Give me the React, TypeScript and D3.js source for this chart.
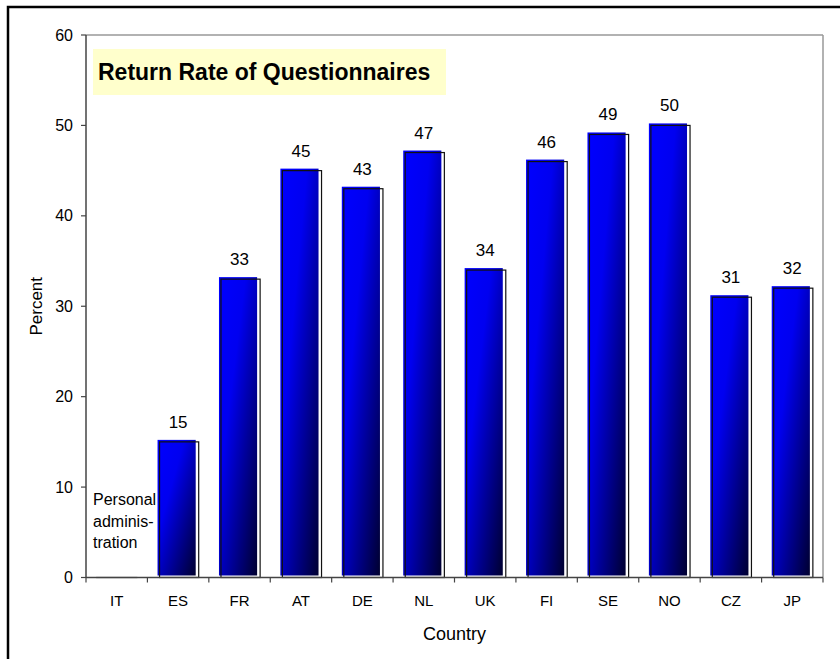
import { scaleBand, scaleLinear } from 'd3'

const COUNTRIES = ['IT', 'ES', 'FR', 'AT', 'DE', 'NL', 'UK', 'FI', 'SE', 'NO', 'CZ', 'JP']
const RETURN_RATE = [0, 15, 33, 45, 43, 47, 34, 46, 49, 50, 31, 32]
const Y_TICKS = [0, 10, 20, 30, 40, 50, 60]
const NOTE_LINES = ['Personal', 'adminis-', 'tration']

const TITLE = 'Return Rate of Questionnaires'
const Y_LABEL = 'Percent'
const X_LABEL = 'Country'

export default function App() {
  const width = 840
  const height = 659
  const plot = { left: 86, right: 823, top: 35, bottom: 577.5 }
  const font = 'Arial, "Liberation Sans", sans-serif'

  const xScale = scaleBand<string>()
    .domain(COUNTRIES)
    .range([plot.left, plot.right])

  const yScale = scaleLinear().domain([0, 60]).range([plot.bottom, plot.top])

  const bw = xScale.bandwidth()
  const barWidth = bw * 0.67

  const data = COUNTRIES.map((c, i) => ({ country: c, value: RETURN_RATE[i] }))

  return (
    <svg
      width={width}
      height={height}
      style={{ position: 'absolute', left: 0, top: 0, background: '#fff' }}
      fontFamily={font}
    >
      <defs>
        <linearGradient id='barGrad' x1='0' y1='0' x2='1' y2='1'>
          <stop offset='0' stopColor='#0000ff' />
          <stop offset='0.35' stopColor='#0000f0' />
          <stop offset='1' stopColor='#000030' />
        </linearGradient>
      </defs>

      {/* outer frame */}
      <rect x={8} y={7} width={900} height={800} fill='none' stroke='#000' strokeWidth={2.5} />

      {/* plot area border (top / right) */}
      <line x1={plot.left} x2={plot.right} y1={plot.top} y2={plot.top} stroke='#999' strokeWidth={1.5} />
      <line x1={plot.right} x2={plot.right} y1={plot.top} y2={plot.bottom} stroke='#999' strokeWidth={1.5} />

      {/* title box */}
      <rect x={93} y={49} width={353} height={46} fill='#ffffcc' />
      <text x={98} y={80} fontSize={23} fontWeight='bold' fill='#000'>
        {TITLE}
      </text>

      {/* bars */}
      {data.map((d, i) => {
        const x0 = xScale(d.country)! + (bw - barWidth) / 2
        const yTop = yScale(d.value)
        if (d.value === 0) {
          return (
            <line
              key={i}
              x1={x0}
              x2={x0 + barWidth}
              y1={plot.bottom}
              y2={plot.bottom}
              stroke='#aaa'
              strokeWidth={1.5}
            />
          )
        }
        return (
          <g key={i}>
            <rect
              x={x0}
              y={yTop - 2}
              width={barWidth - 3}
              height={plot.bottom - yTop}
              fill='url(#barGrad)'
            />
            <rect
              x={x0 + 2}
              y={yTop}
              width={barWidth - 2}
              height={plot.bottom - yTop}
              fill='none'
              stroke='#111'
              strokeWidth={1.2}
            />
            <text
              x={x0 + barWidth / 2}
              y={yTop - 14}
              textAnchor='middle'
              fontSize={17}
              fill='#000'
            >
              {d.value}
            </text>
          </g>
        )
      })}

      {/* y axis */}
      <line x1={plot.left} x2={plot.left} y1={plot.top} y2={plot.bottom} stroke='#444' strokeWidth={1.5} />
      {Y_TICKS.map((t, i) => (
        <g key={i} transform={`translate(0, ${yScale(t)})`}>
          <line x1={plot.left - 5} x2={plot.left} stroke='#444' strokeWidth={1.2} />
          <text x={73} dy='0.35em' textAnchor='end' fontSize={16} fill='#000'>
            {t}
          </text>
        </g>
      ))}
      <text
        transform={`translate(42, ${(plot.top + plot.bottom) / 2}) rotate(-90)`}
        textAnchor='middle'
        fontSize={17}
        fill='#000'
      >
        {Y_LABEL}
      </text>

      {/* x axis */}
      <line x1={plot.left} x2={plot.right} y1={plot.bottom} y2={plot.bottom} stroke='#444' strokeWidth={1.5} />
      {[...COUNTRIES, null].map((c, i) => {
        const x = c ? xScale(c)! : plot.right
        return <line key={i} x1={x} x2={x} y1={plot.bottom} y2={plot.bottom + 5} stroke='#444' strokeWidth={1.2} />
      })}
      {COUNTRIES.map((c, i) => (
        <text
          key={i}
          x={xScale(c)! + bw / 2}
          y={606}
          textAnchor='middle'
          fontSize={15}
          fill='#000'
        >
          {c}
        </text>
      ))}
      <text x={(plot.left + plot.right) / 2} y={640} textAnchor='middle' fontSize={18} fill='#000'>
        {X_LABEL}
      </text>

      {/* note for IT */}
      {NOTE_LINES.map((s, i) => (
        <text key={i} x={93} y={505 + i * 21.5} fontSize={16} fill='#000'>
          {s}
        </text>
      ))}
    </svg>
  )
}
